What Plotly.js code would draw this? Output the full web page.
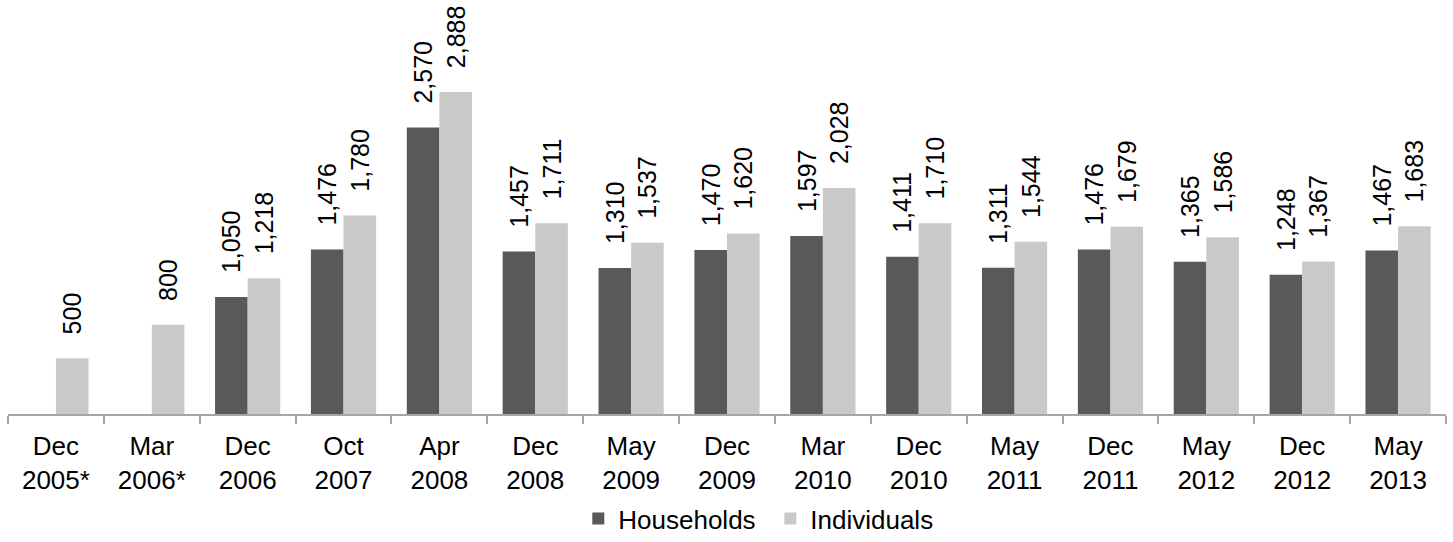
<!DOCTYPE html>
<html>
<head>
<meta charset="utf-8">
<script src="https://cdn.plot.ly/plotly-3.0.1.min.js"></script>
<style>html,body{margin:0;padding:0;background:#fff;}#chart{width:1453px;height:542px;}</style>
</head>
<body>
<div id="chart"></div>
<script>
var categories = ["Dec<br>2005*","Mar<br>2006*","Dec<br>2006","Oct<br>2007","Apr<br>2008","Dec<br>2008","May<br>2009","Dec<br>2009","Mar<br>2010","Dec<br>2010","May<br>2011","Dec<br>2011","May<br>2012","Dec<br>2012","May<br>2013"];
var households = [null,null,1050,1476,2570,1457,1310,1470,1597,1411,1311,1476,1365,1248,1467];
var individuals = [500,800,1218,1780,2888,1711,1537,1620,2028,1710,1544,1679,1586,1367,1683];

var font = "Arial, 'Liberation Sans', sans-serif";
var common = {
  type: 'bar',
  x: categories,
  textposition: 'outside',
  textangle: -90,
  texttemplate: '\u00a0\u00a0\u00a0%{y:,}',
  textfont: {family: font, size: 25, color: '#000'},
  constraintext: 'none',
  cliponaxis: false,
  hoverinfo: 'skip'
};
var t1 = Object.assign({}, common, {name: 'Households', y: households, marker: {color: '#595959'}});
var t2 = Object.assign({}, common, {name: 'Individuals', y: individuals, marker: {color: '#c9c9c9'}});

var layout = {
  width: 1453, height: 542,
  margin: {l: 8, r: 7, t: 24, b: 128, autoexpand: false},
  paper_bgcolor: '#fff', plot_bgcolor: '#fff',
  barmode: 'group',
  bargap: 0.32,
  bargroupgap: 0,
  font: {family: font, size: 26, color: '#000'},
  xaxis: {
    type: 'category',
    showline: true, linecolor: '#a6a6a6', linewidth: 2,
    ticks: 'outside', tickson: 'boundaries', ticklen: 8, tickcolor: '#a6a6a6', tickwidth: 2,
    ticklabelstandoff: 8,
    tickfont: {family: font, size: 26, color: '#000'},
    showgrid: false, zeroline: false, automargin: false
  },
  yaxis: {
    range: [0, 3498], visible: false, showgrid: false, zeroline: false
  },
  showlegend: true,
  legend: {
    orientation: 'h', x: 0.398, xanchor: 'left', xref: 'container',
    y: 0, yanchor: 'bottom', yref: 'container',
    font: {family: font, size: 26, color: '#000'},
    itemwidth: 30, tracegroupgap: 0,
    entrywidth: 147
  }
};
Plotly.newPlot('chart', [t1, t2], layout, {displayModeBar: false, staticPlot: true});
</script>
</body>
</html>
